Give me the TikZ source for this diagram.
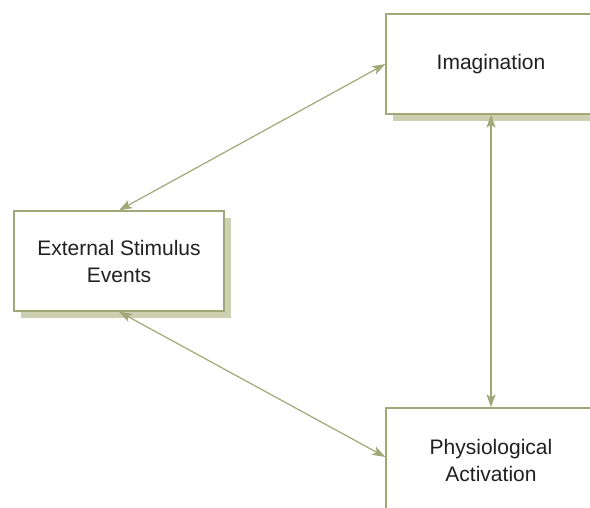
\documentclass[tikz,border=0pt]{standalone}
\usepackage{fontspec}
\setmainfont{Liberation Sans}
\usetikzlibrary{arrows.meta,shadows}
\definecolor{boxline}{RGB}{160,168,120}
\definecolor{boxshade}{RGB}{204,208,176}
\definecolor{boxtext}{RGB}{35,31,32}
\tikzset{
  stagebox/.style={draw=boxline, line width=1.3pt, fill=white,
    minimum width=210pt, minimum height=100pt, align=center,
    text=boxtext, font=\fontsize{21}{27}\selectfont,
    drop shadow={shadow xshift=7pt, shadow yshift=-7pt, fill=boxshade, opacity=1}},
  link/.style={draw=boxline, line width=1.2pt,
    {Stealth[length=13pt,width=9pt,inset=3pt]}-{Stealth[length=13pt,width=9pt,inset=3pt]}}
}
\begin{document}
\begin{tikzpicture}[x=1pt,y=-1pt]
  \useasboundingbox (0,0) rectangle (590,507);

  % Boxes
  \node[stagebox] (imag) at (491,64) {Imagination};
  \node[stagebox] (stim) at (119,261) {External Stimulus\\Events};
  \node[stagebox, minimum height=104pt] (phys) at (491,460) {Physiological\\Activation};

  % Links
  \draw[link] (stim.north) -- (imag.west);
  \draw[link] (stim.south) -- (phys.west |- 0,457);
  \draw[link] (imag.south) -- (phys.north);
\end{tikzpicture}
\end{document}
